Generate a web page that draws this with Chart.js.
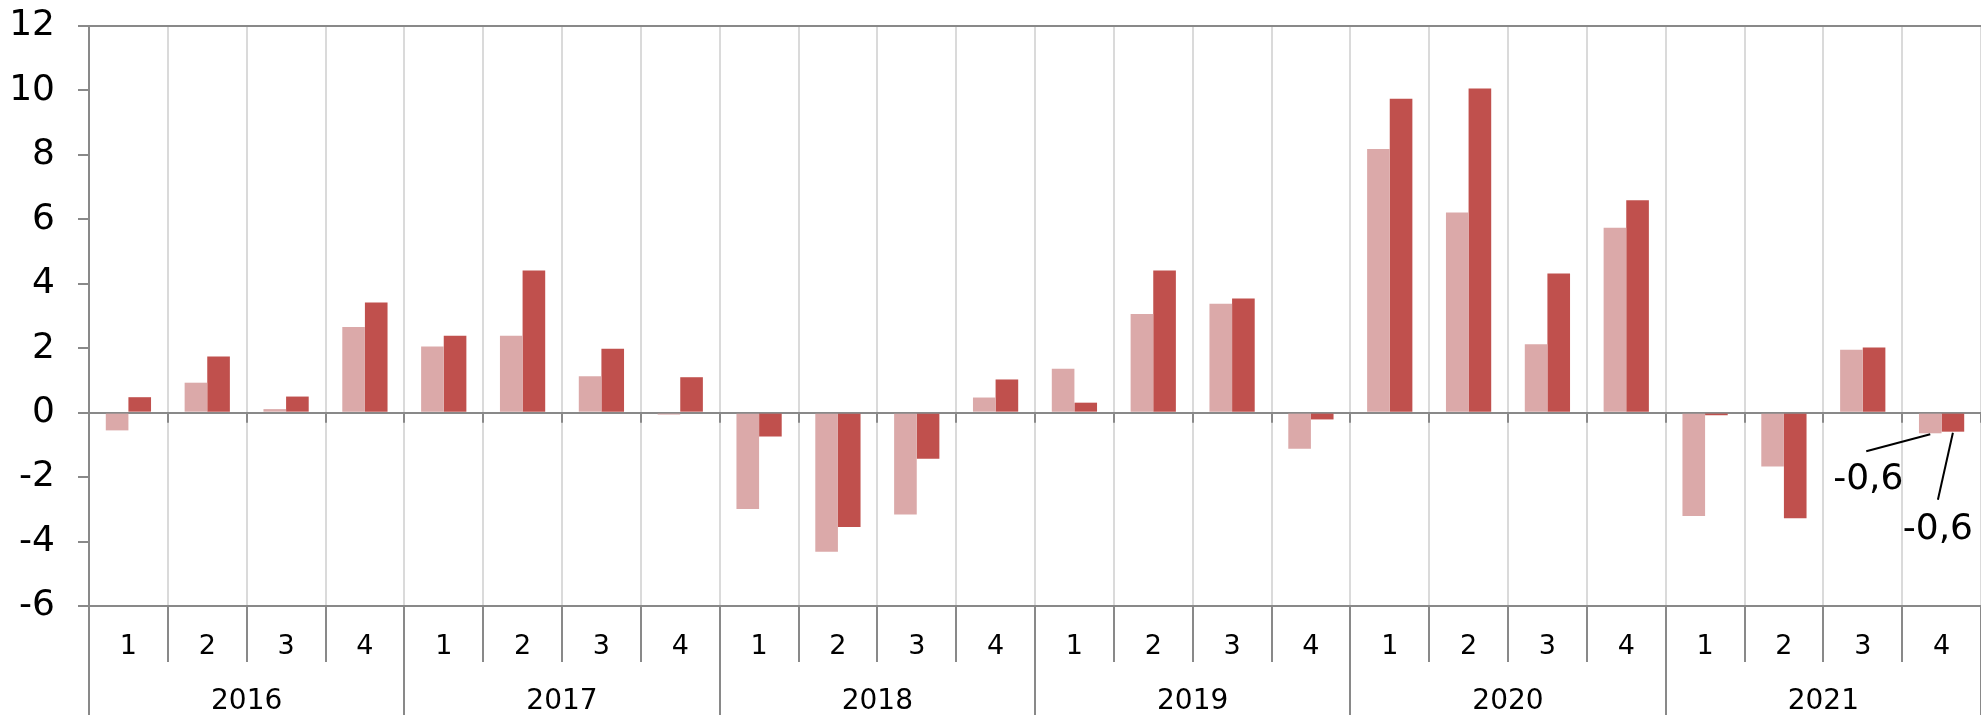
<!DOCTYPE html>
<html>
<head>
<meta charset="utf-8">
<script src="https://cdn.jsdelivr.net/npm/chart.js@4/dist/chart.umd.min.js"></script>
<style>
  html, body { margin: 0; padding: 0; background: #fff; }
  #wrap { width: 1981px; height: 715px; }
</style>
</head>
<body>
<div id="wrap"><canvas id="chart" width="1981" height="715"></canvas></div>
<script>
const years = ['2016', '2017', '2018', '2019', '2020', '2021'];
const quarters = [
  '1', '2', '3', '4', '1', '2', '3', '4', '1', '2', '3', '4',
  '1', '2', '3', '4', '1', '2', '3', '4', '1', '2', '3', '4',
];
const lightValues = [
  -0.55, 0.93, 0.11, 2.66, 2.05, 2.39, 1.13, -0.06, -2.99, -4.32, -3.16, 0.47,
  1.36, 3.06, 3.38, -1.12, 8.18, 6.21, 2.12, 5.74, -3.21, -1.67, 1.95, -0.64,
];
const darkValues = [
  0.48, 1.74, 0.5, 3.42, 2.39, 4.41, 1.98, 1.10, -0.74, -3.55, -1.43, 1.03,
  0.31, 4.41, 3.54, -0.21, 9.74, 10.06, 4.32, 6.59, -0.08, -3.28, 2.02, -0.59,
];
const yTicks = [-6, -4, -2, 0, 2, 4, 6, 8, 10, 12];
const borderTicks = [12, 0, -6];
const callouts = [
  { dataset: 0, index: 23, text: '-0,6' },
  { dataset: 1, index: 23, text: '-0,6' },
];

const FONT = "'DejaVu Sans', Verdana, sans-serif";
const AXIS_GRAY = '#898989';

// quarter/year labels, dividers, zero-line ticks and the two callouts
const axisDecor = {
  id: 'axisDecor',
  afterDraw(chart) {
    const { ctx, scales: { x, y }, chartArea } = chart;
    const step = x.getPixelForValue(1) - x.getPixelForValue(0);
    const zeroY = y.getPixelForValue(0);
    ctx.save();
    ctx.strokeStyle = AXIS_GRAY;
    ctx.lineWidth = 2;

    // small ticks under the zero line + year dividers
    for (let i = 0; i <= quarters.length; i++) {
      const bx = Math.round(x.getPixelForValue(i) - step / 2);
      ctx.beginPath();
      ctx.moveTo(bx, zeroY);
      ctx.lineTo(bx, zeroY + 10);
      ctx.stroke();
      if (i % 4 === 0) {
        ctx.beginPath();
        ctx.moveTo(bx, chartArea.bottom);
        ctx.lineTo(bx, chart.height);
        ctx.stroke();
      }
    }

    ctx.fillStyle = '#000';
    ctx.textAlign = 'center';
    ctx.textBaseline = 'alphabetic';
    ctx.font = `27px ${FONT}`;
    quarters.forEach((q, i) => {
      ctx.fillText(q, x.getPixelForValue(i), chartArea.bottom + 48);
    });
    ctx.font = `28px ${FONT}`;
    years.forEach((yr, k) => {
      const cx = (x.getPixelForValue(k * 4) + x.getPixelForValue(k * 4 + 3)) / 2;
      ctx.fillText(yr, cx, chartArea.bottom + 103);
    });

    // callouts for the last quarter
    const offsets = [[-62, 46], [-15, 98]];
    ctx.font = `36px ${FONT}`;
    ctx.textBaseline = 'middle';
    ctx.strokeStyle = '#000';
    callouts.forEach((c, n) => {
      const bar = chart.getDatasetMeta(c.dataset).data[c.index];
      const [dx, dy] = offsets[n];
      const lx = bar.x + dx;
      const ly = bar.y + dy;
      ctx.beginPath();
      if (n === 0) {
        ctx.moveTo(lx - 2, ly - 28);
      } else {
        ctx.moveTo(lx, ly - 30);
      }
      ctx.lineTo(bar.x, bar.y + 1);
      ctx.stroke();
      ctx.fillText(c.text, lx, ly);
    });
    ctx.restore();
  },
};

new Chart(document.getElementById('chart'), {
  type: 'bar',
  data: {
    labels: quarters,
    datasets: [
      {
        data: lightValues,
        backgroundColor: '#dba9a9',
        borderWidth: 0,
        categoryPercentage: 0.574,
        barPercentage: 1.0,
      },
      {
        data: darkValues,
        backgroundColor: '#c0504d',
        borderWidth: 0,
        categoryPercentage: 0.574,
        barPercentage: 1.0,
      },
    ],
  },
  options: {
    responsive: false,
    devicePixelRatio: 1,
    animation: false,
    layout: { padding: { top: 26, right: 0, bottom: 0, left: 0 } },
    plugins: { legend: { display: false }, tooltip: { enabled: false } },
    scales: {
      x: {
        type: 'category',
        offset: true,
        grid: {
          offset: true,
          color: '#dadada',
          lineWidth: 2,
          drawTicks: true,
          tickLength: 56,
          tickColor: AXIS_GRAY,
        },
        border: { display: false },
        ticks: { display: false },
        afterFit(scale) {
          scale.height = 109;
          scale.paddingLeft = 0;
          scale.paddingRight = 0;
        },
      },
      y: {
        min: -6,
        max: 12,
        z: 1,
        afterBuildTicks(scale) { scale.ticks = yTicks.map((v) => ({ value: v })); },
        afterFit(scale) {
          scale.width = 89;
          scale.paddingTop = 0;
          scale.paddingBottom = 0;
        },
        grid: {
          color: (ctx) => (borderTicks.includes(ctx.tick.value) ? AXIS_GRAY : 'rgba(0,0,0,0)'),
          tickColor: AXIS_GRAY,
          lineWidth: 2,
          tickLength: 11,
        },
        border: { display: true, color: AXIS_GRAY, width: 2 },
        ticks: {
          color: '#000',
          padding: 23,
          font: { family: FONT, size: 36 },
        },
      },
    },
  },
  plugins: [axisDecor],
});
</script>
</body>
</html>
